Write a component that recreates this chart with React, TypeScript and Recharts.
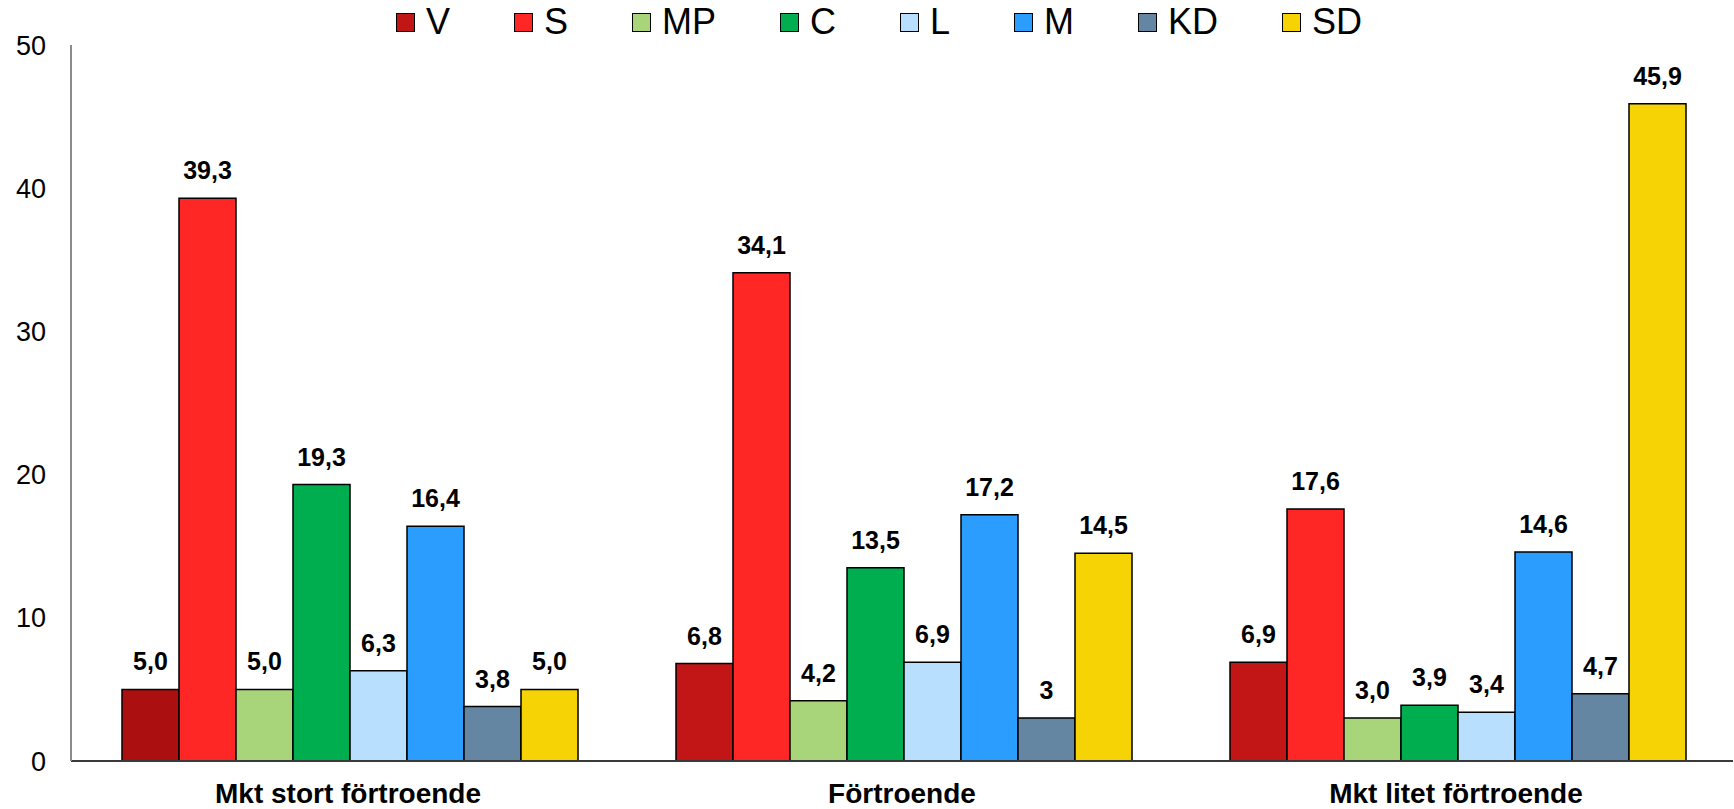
import { Bar, BarChart, Cell, LabelList, XAxis, YAxis } from "recharts";

const categories = ["Mkt stort förtroende", "Förtroende", "Mkt litet förtroende"];
const parties = ["V", "S", "MP", "C", "L", "M", "KD", "SD"];

const V = [5.0, 6.8, 6.9];
const S = [39.3, 34.1, 17.6];
const MP = [5.0, 4.2, 3.0];
const C = [19.3, 13.5, 3.9];
const L = [6.3, 6.9, 3.4];
const M = [16.4, 17.2, 14.6];
const KD = [3.8, 3, 4.7];
const SD = [5.0, 14.5, 45.9];

const yTicks = [0, 10, 20, 30, 40, 50];

// the one label the source prints without a decimal
const plainLabels = ["KD|Förtroende"];

const colors: Record<string, string> = {
  V: "#c21616",
  S: "#ff2626",
  MP: "#a9d57a",
  C: "#00ad4f",
  L: "#b9dfff",
  M: "#2a9dff",
  KD: "#6586a3",
  SD: "#f5d305",
};
// first group's V bar is a darker red in the original
const vCellColors = ["#ac0f0f", "#c21616", "#c21616"];

const values: Record<string, number[]> = { V, S, MP, C, L, M, KD, SD };

const rows = categories.map((category, i) => {
  const row: Record<string, string | number> = { category };
  for (const p of parties) {
    const v = values[p][i];
    row[p] = v;
    row[p + "_label"] = plainLabels.includes(p + "|" + category)
      ? String(v)
      : v.toFixed(1).replace(".", ",");
  }
  return row;
});

function Legend() {
  return (
    <div
      style={{
        position: "absolute",
        top: 4,
        left: 396,
        display: "flex",
        alignItems: "center",
        fontSize: 36,
        lineHeight: "36px",
        color: "#000",
      }}
    >
      {parties.map((p) => (
        <div key={p} style={{ display: "flex", alignItems: "center", marginRight: 64 }}>
          <span
            style={{
              width: 17,
              height: 17,
              background: colors[p],
              border: "1px solid #000",
              marginRight: 11,
              display: "inline-block",
            }}
          />
          <span>{p}</span>
        </div>
      ))}
    </div>
  );
}

export default function App() {
  return (
    <div
      style={{
        position: "absolute",
        left: 0,
        top: 0,
        width: 1734,
        height: 809,
        background: "#fff",
        fontFamily: '"Liberation Sans", Arial, sans-serif',
      }}
    >
      <Legend />
      <BarChart
        width={1734}
        height={809}
        data={rows}
        margin={{ top: 45, right: 1, bottom: 0, left: 0 }}
        barGap={0}
        barCategoryGap={51}
      >
        <XAxis
          dataKey="category"
          height={48}
          interval={0}
          axisLine={{ stroke: "#3a3a3a", strokeWidth: 2 }}
          tickLine={false}
          tickSize={0}
          tickMargin={22}
          tick={{ fill: "#000", fontSize: 28, fontWeight: 700 }}
        />
        <YAxis
          width={71}
          domain={[0, 50]}
          ticks={yTicks}
          interval={0}
          axisLine={{ stroke: "#8c8c8c", strokeWidth: 2 }}
          tickLine={false}
          tickSize={0}
          tickMargin={25}
          tick={{ fill: "#000", fontSize: 27 }}
        />
        {parties.map((p) => (
          <Bar
            key={p}
            dataKey={p}
            fill={colors[p]}
            stroke="#000"
            strokeWidth={1.5}
            isAnimationActive={false}
          >
            {p === "V" && rows.map((_, i) => <Cell key={i} fill={vCellColors[i]} />)}
            <LabelList
              dataKey={p + "_label"}
              position="top"
              offset={19}
              fill="#000"
              fontSize={25}
              fontWeight={700}
            />
          </Bar>
        ))}
      </BarChart>
    </div>
  );
}
